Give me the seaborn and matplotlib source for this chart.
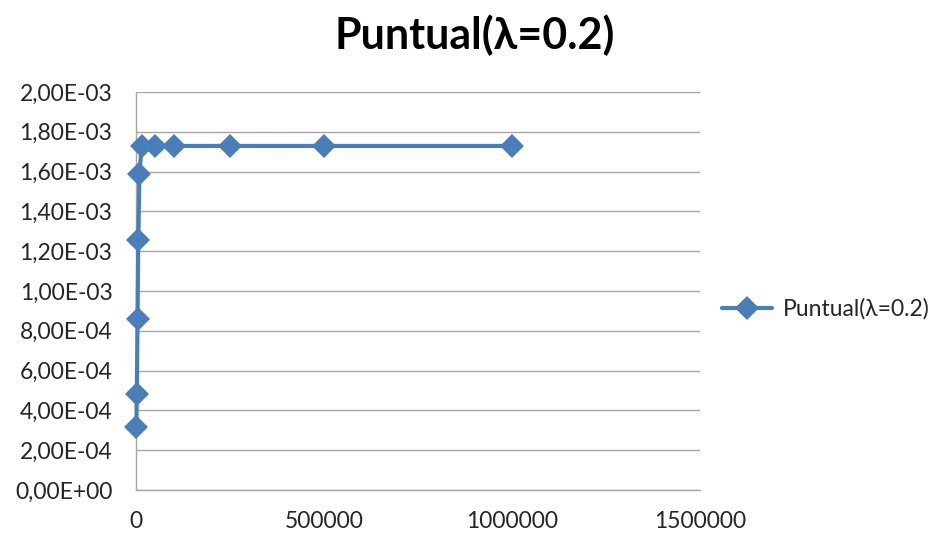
import matplotlib
matplotlib.use("Agg")
import matplotlib.pyplot as plt
import seaborn as sns
import pandas as pd
from matplotlib.ticker import FuncFormatter, MultipleLocator

# Series values
series_name = "Puntual(λ=0.2)"
x_values = [1000, 2000, 4000, 6000, 9000, 15000, 50000, 100000, 250000, 500000, 1000000]
y_values = [3.17e-4, 4.82e-4, 8.60e-4, 1.256e-3, 1.586e-3, 1.729e-3, 1.729e-3,
            1.729e-3, 1.729e-3, 1.729e-3, 1.729e-3]
x_ticks = [0, 500000, 1000000, 1500000]

df = pd.DataFrame({"x": x_values, "y": y_values, "serie": series_name})

sns.set_theme(style="white")
plt.rcParams["font.family"] = ["Lato", "DejaVu Sans"]

fig = plt.figure(figsize=(9.33, 5.39), dpi=100)
ax = fig.add_axes([0.1458, 0.0909, 0.6045, 0.7384])

blue = "#4a7ebb"
sns.lineplot(data=df, x="x", y="y", hue="serie", palette=[blue], sort=False,
             marker="D", markersize=12, markeredgewidth=0, linewidth=3,
             ax=ax, legend=True)
for line in ax.lines:
    line.set_clip_on(False)
    line.set_zorder(5)

ax.set_xlim(0, 1500000)
ax.set_ylim(0, 2.0e-3)
ax.set_xticks(x_ticks)
ax.xaxis.set_major_formatter(FuncFormatter(lambda v, p: f"{int(v)}"))
ax.yaxis.set_major_locator(MultipleLocator(2.0e-4))
ax.yaxis.set_major_formatter(FuncFormatter(lambda v, p: f"{v:.2E}".replace(".", ",")))

ax.grid(axis="y", color="#a6a6a6", linewidth=1)
ax.grid(axis="x", visible=False)
ax.set_axisbelow(True)
for side in ["top", "right"]:
    ax.spines[side].set_visible(False)
for side in ["left", "bottom"]:
    ax.spines[side].set_color("#a6a6a6")
    ax.spines[side].set_linewidth(1)

ax.tick_params(axis="both", which="major", direction="out", length=5, width=1,
               color="#a6a6a6", labelsize=16.5, labelcolor="#262626")
ax.tick_params(axis="y", pad=12)
ax.tick_params(axis="x", pad=10)
ax.set_xlabel("")
ax.set_ylabel("")

fig.text(0.509, 0.935, series_name, ha="center", va="center",
         fontsize=31, fontweight="bold", color="black")

leg = ax.legend(loc="center left", bbox_to_anchor=(1.01, 0.455), frameon=False,
                fontsize=16.5, handlelength=2.2, handletextpad=0.45,
                borderaxespad=0.3)
for t in leg.get_texts():
    t.set_color("#262626")

fig.savefig("out.png", dpi=100, facecolor="white")
